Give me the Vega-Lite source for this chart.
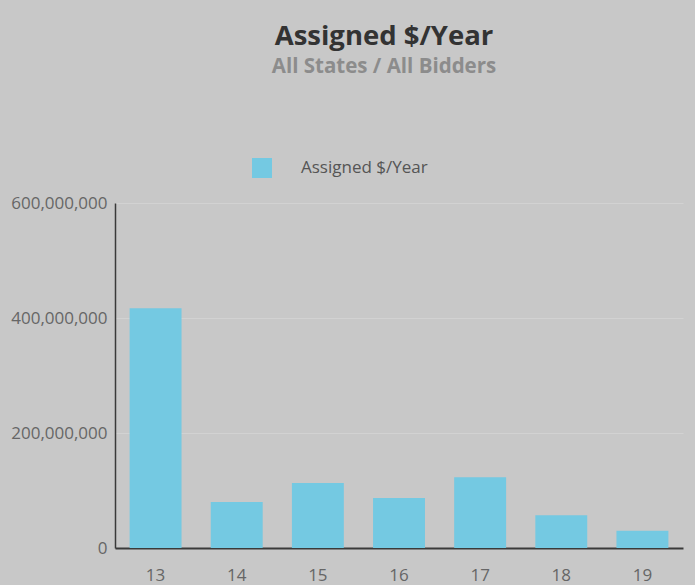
{
  "$schema": "https://vega.github.io/schema/vega-lite/v6.json",
  "autosize": "none",
  "width": 568,
  "height": 345,
  "padding": {"left": 115, "top": 203, "right": 12, "bottom": 37},
  "background": "#c8c8c8",
  "title": {
    "text": "Assigned $/Year",
    "subtitle": "All States / All Bidders",
    "anchor": "middle",
    "frame": "group",
    "font": "Open Sans",
    "fontSize": 27.5,
    "fontWeight": "bold",
    "color": "#333333",
    "subtitleFont": "Open Sans",
    "subtitleFontSize": 20.5,
    "subtitleFontWeight": "bold",
    "subtitleColor": "#8c8c8c",
    "subtitlePadding": 6,
    "offset": 80,
    "dx": -15
  },
  "data": {
    "values": [
      {"year": "13", "value": 417000000, "series": "Assigned $/Year"},
      {"year": "14", "value": 80000000, "series": "Assigned $/Year"},
      {"year": "15", "value": 113000000, "series": "Assigned $/Year"},
      {"year": "16", "value": 87000000, "series": "Assigned $/Year"},
      {"year": "17", "value": 123000000, "series": "Assigned $/Year"},
      {"year": "18", "value": 57000000, "series": "Assigned $/Year"},
      {"year": "19", "value": 30000000, "series": "Assigned $/Year"}
    ]
  },
  "mark": {"type": "bar"},
  "encoding": {
    "x": {
      "field": "year",
      "type": "nominal",
      "scale": {"paddingInner": 0.36, "paddingOuter": 0.18},
      "axis": {
        "title": null,
        "labelAngle": 0,
        "labelFont": "Open Sans",
        "labelFontSize": 17,
        "labelColor": "#666666",
        "labelPadding": 19,
        "ticks": false,
        "domainColor": "#3a3a3a",
        "domainWidth": 2,
        "grid": false
      }
    },
    "y": {
      "field": "value",
      "type": "quantitative",
      "scale": {"domain": [0, 600000000], "nice": false},
      "axis": {
        "title": null,
        "values": [0, 200000000, 400000000, 600000000],
        "format": ",d",
        "labelFont": "Open Sans",
        "labelFontSize": 17,
        "labelColor": "#666666",
        "labelPadding": 8,
        "ticks": false,
        "domainColor": "#3a3a3a",
        "domainWidth": 1.5,
        "gridColor": "#d2d2d2",
        "gridWidth": 1
      }
    },
    "color": {
      "field": "series",
      "type": "nominal",
      "scale": {"range": ["#74c9e2"]},
      "legend": {
        "title": null,
        "orient": "none",
        "legendX": 136,
        "legendY": -46,
        "symbolType": "square",
        "symbolSize": 400,
        "symbolOpacity": 1,
        "labelFont": "Open Sans",
        "labelFontSize": 17,
        "labelColor": "#555555",
        "labelOffset": 28
      }
    }
  },
  "config": {
    "view": {"stroke": null}
  }
}
